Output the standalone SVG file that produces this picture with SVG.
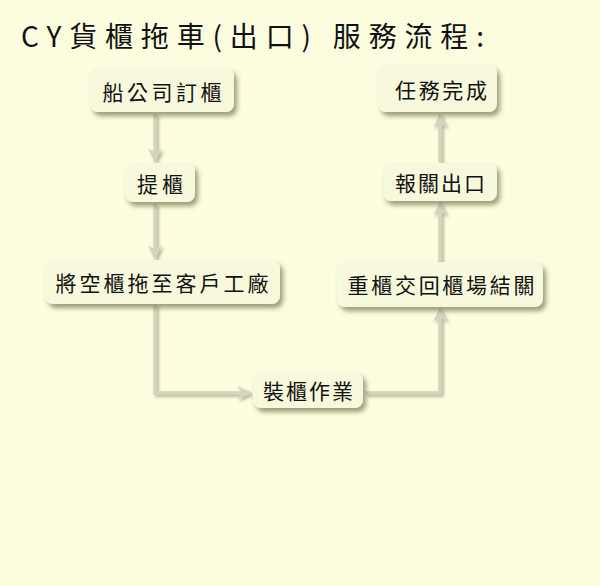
<svg xmlns="http://www.w3.org/2000/svg" width="600" height="586" viewBox="0 0 600 586">
<defs>
<filter id="sh" x="-20%" y="-30%" width="140%" height="170%">
<feDropShadow dx="3" dy="4" stdDeviation="2.5" flood-color="#5a5a30" flood-opacity="0.6"/>
</filter>
<filter id="lsh" filterUnits="userSpaceOnUse" x="0" y="0" width="600" height="586">
<feDropShadow dx="2" dy="2" stdDeviation="1.5" flood-color="#6a6a40" flood-opacity="0.5"/>
</filter>
<marker id="ah" viewBox="0 0 10 10" refX="9" refY="5" markerWidth="4" markerHeight="4" orient="auto" markerUnits="strokeWidth">
<path d="M0,0 L10,5 L0,10 L3,5 z" fill="#d4d4c0"/>
</marker>
</defs>
<style>
.bg{fill:#fdfde0}
.box{fill:#f8f9dc;filter:url(#sh)}
.t{font-family:"Noto Sans CJK TC","Noto Sans CJK SC",sans-serif;font-size:21px;fill:#111;text-anchor:middle;dominant-baseline:central}
.title{font-family:"Noto Sans CJK TC","Noto Sans CJK SC",sans-serif;font-size:28px;fill:#111}
.c{fill:none;stroke:#d4d4c0;stroke-width:3.5;marker-end:url(#ah)}
</style>
<rect class="bg" width="600" height="586"/>
<text class="title" x="21" y="47" textLength="463" lengthAdjust="spacing">CY貨櫃拖車(出口) 服務流程:</text>
<g id="connectors" filter="url(#lsh)">
<path class="c" d="M155,114 L155,161"/>
<path class="c" d="M155,204 L155,258"/>
<path class="c" d="M155,305 L155,393 L250,393"/>
<path class="c" d="M365,393 L440,393 L440,309"/>
<path class="c" d="M440,262 L440,203"/>
<path class="c" d="M440,162 L440,115"/>
</g>
<g id="n1"><rect class="box" x="90" y="68" width="144" height="44" rx="8"/><text class="t" x="162" y="91" textLength="119" lengthAdjust="spacing">船公司訂櫃</text></g>
<g id="n2"><rect class="box" x="125" y="163" width="70" height="39" rx="8"/><text class="t" x="160" y="183" textLength="46" lengthAdjust="spacing">提櫃</text></g>
<g id="n3"><rect class="box" x="45" y="260" width="235" height="44" rx="8"/><text class="t" x="162" y="282" textLength="213" lengthAdjust="spacing">將空櫃拖至客戶工廠</text></g>
<g id="n4"><rect class="box" x="253" y="372" width="110" height="36" rx="8"/><text class="t" x="308" y="390" textLength="90" lengthAdjust="spacing">裝櫃作業</text></g>
<g id="n5"><rect class="box" x="337" y="262" width="206" height="45" rx="8"/><text class="t" x="441" y="284" textLength="187" lengthAdjust="spacing">重櫃交回櫃場結關</text></g>
<g id="n6"><rect class="box" x="383" y="163" width="114" height="38" rx="8"/><text class="t" x="440" y="182" textLength="90" lengthAdjust="spacing">報關出口</text></g>
<g id="n7"><rect class="box" x="378" y="65" width="119" height="47" rx="8"/><text class="t" x="441" y="89" textLength="92" lengthAdjust="spacing">任務完成</text></g>
</svg>
